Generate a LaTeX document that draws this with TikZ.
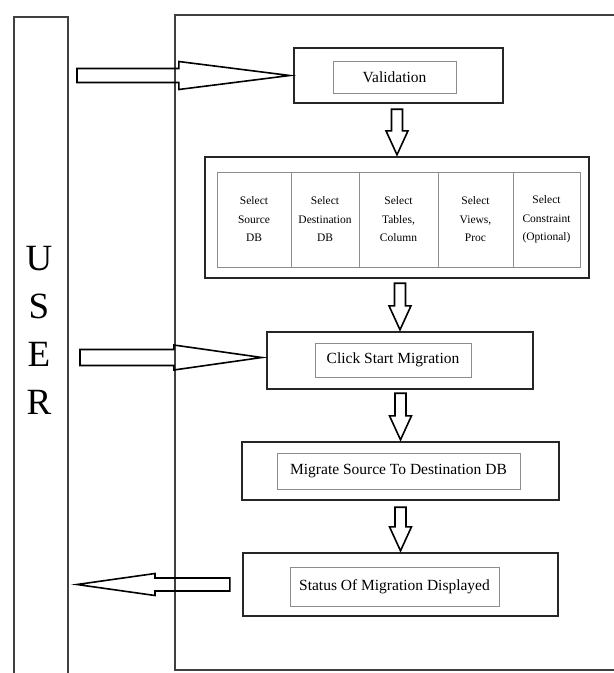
\documentclass[tikz,border=0pt]{standalone}
\usepackage{fontspec}
\setmainfont{Liberation Serif}
\usetikzlibrary{calc}
\tikzset{
 outerbox/.style={draw=black!85, line width=2.4pt, inner sep=0pt},
 innerbox/.style={draw=black!45, line width=0.8pt, inner sep=0pt, font=\fontsize{15.5}{18}\selectfont},
 colbox/.style={draw=black!45, line width=0.8pt, inner sep=0pt, align=center, font=\fontsize{11.5}{18.5}\selectfont, minimum height=95pt},
 blk/.style={draw=black, line width=1.6pt, line join=miter},
 frameline/.style={draw=black!75, line width=2pt},
}
\newcommand{\blkright}[5]{\draw[blk] let \p1=#1, \p2=#2 in (\x1,\y2+#3) -- (\x2-#5,\y2+#3) -- (\x2-#5,\y2+#4) -- (\x2,\y2) -- (\x2-#5,\y2-#4) -- (\x2-#5,\y2-#3) -- (\x1,\y2-#3) -- cycle;}
\newcommand{\blkleft}[5]{\draw[blk] let \p1=#1, \p2=#2 in (\x1,\y1+#3) -- (\x2+#5,\y1+#3) -- (\x2+#5,\y1+#4) -- (\x2,\y1) -- (\x2+#5,\y1-#4) -- (\x2+#5,\y1-#3) -- (\x1,\y1-#3) -- cycle;}
\newcommand{\blkdown}[2]{\draw[blk] let \p1=#1, \p2=#2 in (\x2-5.5pt,\y1) -- (\x2+5.5pt,\y1) -- (\x2+5.5pt,\y2+24pt) -- (\x2+11pt,\y2+24pt) -- (\x2,\y2) -- (\x2-11pt,\y2+24pt) -- (\x2-5.5pt,\y2+24pt) -- cycle;}
\begin{document}
\begin{tikzpicture}[x=1pt,y=-1pt]
\useasboundingbox (0,0) rectangle (614,673);
\clip (0,0) rectangle (614,673);
% system frame
\draw[frameline] (640,670) -- (175,670) -- (175,15) -- (640,15);
% user column
\node[frameline, draw, minimum width=54pt, minimum height=700pt, anchor=north west, inner sep=0pt] (user) at (13,16) {};
\node[font=\fontsize{37}{48}\selectfont, align=center, inner sep=0pt] (usertext) at (39,330) {U\\S\\E\\R};
% validation
\node[outerbox, minimum width=209pt, minimum height=55pt] (val) at (398.5,75.5) {};
\node[innerbox, minimum width=123pt, minimum height=32pt] (valin) at (394.5,77) {Validation};
% selection box
\node[outerbox, minimum width=384pt, minimum height=121pt] (sel) at (397,217.5) {};
\node[colbox, minimum width=74pt] (c1) at (254,219.5) {Select\\Source\\DB};
\node[colbox, minimum width=68pt] (c2) at (325,219.5) {Select\\Destination\\DB};
\node[colbox, minimum width=79pt] (c3) at (398.5,219.5) {Select\\Tables,\\Column};
\node[colbox, minimum width=75pt] (c4) at (475.5,219.5) {Select\\Views,\\Proc};
\node[colbox, minimum width=67pt] (c5) at (546.5,219.5) {Select\\Constraint\\(Optional)};
% click start migration
\node[outerbox, minimum width=266pt, minimum height=57pt] (click) at (400,360.5) {};
\node[innerbox, minimum width=156pt, minimum height=34pt] (clickin) at (393,360) {Click Start Migration};
% migrate
\node[outerbox, minimum width=317pt, minimum height=58pt] (mig) at (400.5,471) {};
\node[innerbox, minimum width=243pt, minimum height=36pt] (migin) at (398.5,471) {Migrate Source To Destination DB};
% status
\node[outerbox, minimum width=315pt, minimum height=63pt] (status) at (400.5,584.5) {};
\node[innerbox, minimum width=209pt, minimum height=39pt] (statusin) at (394.5,586.5) {Status Of Migration Displayed};
% arrows
\blkright{($(user.east)+(8,0)$)}{($(val.west)+(-3,0)$)}{7pt}{14pt}{111pt}
\blkright{($(user.east)+(11,0)$)}{($(click.west)+(-4,-3)$)}{8pt}{12.5pt}{88pt}
\blkleft{($(status.west)+(-12,0)$)}{($(user.east)+(8,0)$)}{6.5pt}{11pt}{78pt}
\blkdown{($(val.south)+(0,5)$)}{($(sel.north)+(0,-1)$)}
\blkdown{($(sel.south)+(0,4)$)}{($(click.north)+(0,-1)$)}
\blkdown{($(click.south)+(0,3)$)}{($(mig.north)+(0,-1)$)}
\blkdown{($(mig.south)+(0,6)$)}{($(status.north)+(0,-1)$)}
\end{tikzpicture}
\end{document}
